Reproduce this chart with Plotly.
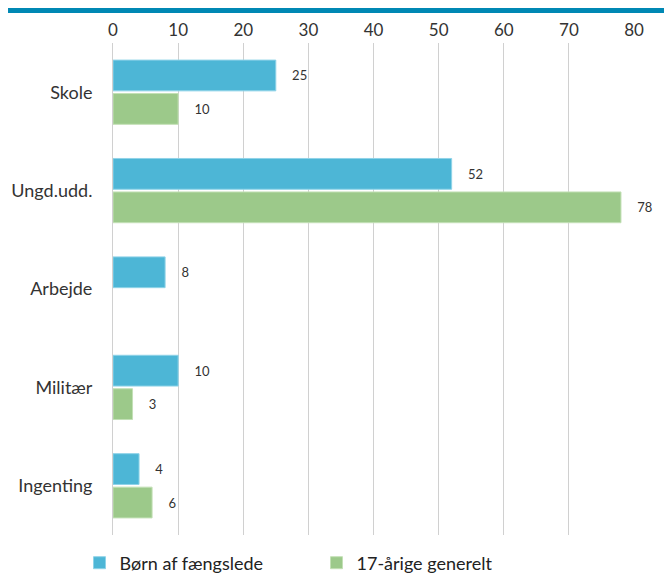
import plotly.graph_objects as go

categories = ["Skole", "Ungd.udd.", "Arbejde", "Militær", "Ingenting"]
series_names = ["Børn af fængslede", "17-årige generelt"]
born_values = [25, 52, 8, 10, 4]
generelt_values = [10, 78, None, 3, 6]
tick_values = [0, 10, 20, 30, 40, 50, 60, 70, 80]

blue = "#4DB6D6"
green = "#9CC98A"
font_family = "Lato, 'Open Sans', sans-serif"
pad = "\u00a0" * 4

fig = go.Figure()
for name, vals, col, edge in [
    (series_names[0], born_values, blue, "#8FD3E8"),
    (series_names[1], generelt_values, green, "#C3E0B6"),
]:
    fig.add_trace(go.Bar(
        y=categories, x=vals, name=name, orientation="h",
        marker=dict(color=col, line=dict(color=edge, width=1)),
        text=[None if v is None else f"{pad}{v}" for v in vals],
        textposition="outside", cliponaxis=False, constraintext="none",
        textfont=dict(size=13, color="#333333", family=font_family),
        hoverinfo="x+name",
    ))

fig.update_layout(
    width=664, height=565,
    margin=dict(l=105, r=38, t=35, b=38, autoexpand=False),
    paper_bgcolor="white", plot_bgcolor="white",
    barmode="group", bargap=0.32, bargroupgap=0.08,
    font=dict(family=font_family, color="#333333", size=16),
    xaxis=dict(
        side="top", range=[0, 80], tickvals=tick_values, automargin=False,
        showgrid=True, gridcolor="#D0D0D0", gridwidth=1,
        zeroline=False, showline=False,
        tickfont=dict(size=17, color="#333333"),
        ticks="", ticklabelstandoff=3,
    ),
    yaxis=dict(
        autorange="reversed", showgrid=False, zeroline=False, automargin=False,
        showline=True, linecolor="#D0D0D0", linewidth=1,
        tickfont=dict(size=18, color="#333333"), ticks="", ticklabelstandoff=16,
    ),
    legend=dict(
        orientation="h", xref="container", x=0.1077, xanchor="left",
        yref="container", y=0.0177, yanchor="middle",
        font=dict(size=18, color="#222222"), entrywidth=192, entrywidthmode="pixels",
        traceorder="normal",
    ),
    showlegend=True,
    shapes=[dict(
        type="line", xref="paper", yref="paper",
        x0=-0.2015, x1=1.08, y0=1.066, y1=1.066,
        line=dict(color="#0088B4", width=5),
    )],
)

fig.write_html("out.html")
